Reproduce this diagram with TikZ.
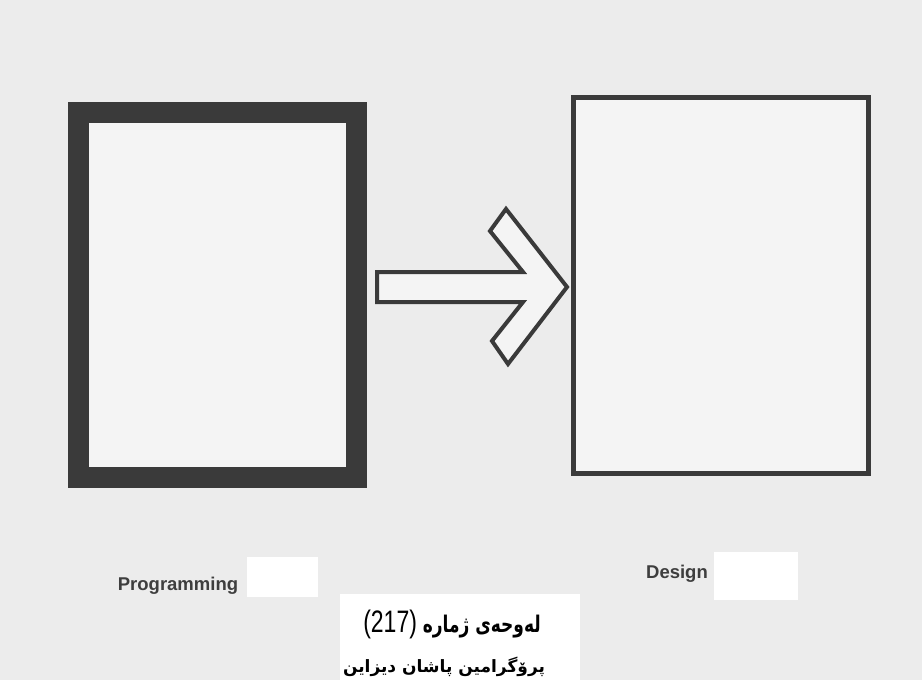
\documentclass[tikz,border=0pt]{standalone}
\usepackage{fontspec}
\setmainfont{Liberation Sans}
\newfontfamily\arabicfont[Script=Arabic]{DejaVu Sans}
\TeXXeTstate=1
\definecolor{paper}{RGB}{236,236,236}
\definecolor{paperin}{RGB}{244,244,244}
\definecolor{ink}{RGB}{58,58,58}
\definecolor{labelink}{RGB}{62,62,62}
\tikzset{
  thickframe/.style={draw=ink, line width=21pt, fill=paperin, inner sep=0pt, outer sep=0pt},
  thinframe/.style={draw=ink, line width=5pt, fill=paperin, inner sep=0pt, outer sep=0pt},
  hollowarrow/.style={draw=ink, line width=4pt, line join=miter, fill=paperin},
  caption/.style={font=\bfseries\fontsize{18.5}{20}\selectfont, text=labelink, inner sep=0pt},
  patch/.style={fill=white, draw=none},
  kurdish/.style={font=\arabicfont\bfseries\fontsize{17}{22}\selectfont, text=black, inner sep=0pt}
}
\begin{document}
\begin{tikzpicture}[x=1pt,y=-1pt]
\useasboundingbox (0,0) rectangle (922,680);
\clip (0,0) rectangle (922,680);
\fill[paper] (0,0) rectangle (922,680);
% frames
\node[thickframe, minimum width=278pt, minimum height=365pt] (prog) at (217,294.5) {};
\node[thinframe, minimum width=295pt, minimum height=376pt] (design) at (720.5,285) {};
% hollow arrow
\coordinate (tail) at (377,287);
\coordinate (tip) at (567,287);
\draw[hollowarrow] (377,272) -- (523,272) -- (490,231) -- (506,209) -- (tip)
  -- (508,364) -- (492,341) -- (523,302) -- (377,302) -- cycle;
% erased patches
\fill[patch] (247,557) rectangle (318,597);
\fill[patch] (714,552) rectangle (798,600);
\fill[patch] (340,594) rectangle (580,680);
% labels
\node[caption] (plabel) at (178,586) {Programming};
\node[caption] (dlabel) at (677,574) {Design};
\node[kurdish, anchor=base] (title) at (452,632) {\scalebox{1}[1.35]{\beginR لەوحەی ژمارە \beginL{\fontspec{Liberation Sans}\mdseries\fontsize{23}{26}\selectfont(217)}\endL\endR}};
\node[kurdish, anchor=base] (subtitle) at (444,672) {\beginR پرۆگرامین پاشان دیزاین\endR};
\end{tikzpicture}
\end{document}
